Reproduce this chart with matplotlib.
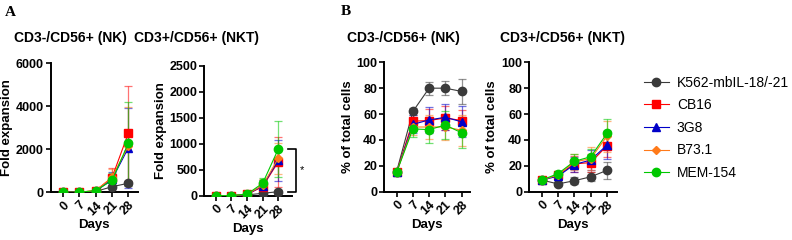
import matplotlib
matplotlib.use("Agg")
import matplotlib.pyplot as plt

plt.rcParams['font.family'] = ['Liberation Sans', 'DejaVu Sans']

days = [0, 7, 14, 21, 28]
groups = ['K562-mbIL-18/-21', 'CB16', '3G8', 'B73.1', 'MEM-154']

# Fold expansion, NK
nk_fold = {
    'K562-mbIL-18/-21': [1, 2, 40, 260, 420],
    'CB16': [1, 3, 80, 680, 2740],
    '3G8': [1, 2, 50, 600, 2060],
    'B73.1': [1, 3, 80, 700, 2150],
    'MEM-154': [1, 3, 80, 550, 2270],
}
nk_fold_err = {
    'K562-mbIL-18/-21': [0, 1, 20, 80, 120],
    'CB16': [0, 2, 60, 450, 2200],
    '3G8': [0, 1, 40, 350, 1850],
    'B73.1': [0, 2, 50, 400, 1800],
    'MEM-154': [0, 2, 50, 350, 1950],
}

# Fold expansion, NKT
nkt_fold = {
    'K562-mbIL-18/-21': [1, 1, 15, 46, 77],
    'CB16': [1, 1, 25, 173, 654],
    '3G8': [1, 1, 22, 190, 680],
    'B73.1': [1, 1, 28, 200, 720],
    'MEM-154': [1, 1, 30, 238, 898],
}
nkt_fold_err = {
    'K562-mbIL-18/-21': [0, 0, 5, 20, 30],
    'CB16': [0, 0, 10, 120, 480],
    '3G8': [0, 0, 10, 110, 400],
    'B73.1': [0, 0, 10, 130, 300],
    'MEM-154': [0, 0, 10, 100, 530],
}

# % of total cells, NK
nk_pct = {
    'K562-mbIL-18/-21': [15.5, 62, 80, 80, 77.5],
    'CB16': [15, 54.5, 55, 57, 55],
    '3G8': [15, 52, 55.5, 57.5, 54],
    'B73.1': [15, 50, 50, 50, 47.5],
    'MEM-154': [15, 48.5, 48, 51.5, 45.5],
}
nk_pct_err = {
    'K562-mbIL-18/-21': [1, 2.5, 5, 5.5, 9.5],
    'CB16': [1, 6, 9, 9, 8],
    '3G8': [1, 7, 10, 10, 12],
    'B73.1': [1, 6, 9, 10, 12],
    'MEM-154': [1, 6.5, 10, 11, 12],
}

# % of total cells, NKT
nkt_pct = {
    'K562-mbIL-18/-21': [9, 6, 8.5, 11.5, 16.5],
    'CB16': [9, 13, 21.5, 22.5, 35.5],
    '3G8': [9, 12, 21, 24.5, 36],
    'B73.1': [9, 13, 23, 25.5, 43],
    'MEM-154': [9, 14, 23.5, 27, 45],
}
nkt_pct_err = {
    'K562-mbIL-18/-21': [1, 1.5, 2.5, 3.5, 6.5],
    'CB16': [1, 2, 6, 7, 9],
    '3G8': [1, 2, 6, 8, 11],
    'B73.1': [1, 2, 6, 9, 12],
    'MEM-154': [1, 2, 5.5, 6, 11],
}

colors = {'K562-mbIL-18/-21': '#3a3a3a', 'CB16': '#ff0000', '3G8': '#0000c8',
          'B73.1': '#ff7a1a', 'MEM-154': '#00c800'}
markers = {'K562-mbIL-18/-21': 'o', 'CB16': 's', '3G8': '^', 'B73.1': 'D', 'MEM-154': 'o'}
msizes = {'K562-mbIL-18/-21': 6, 'CB16': 6, '3G8': 6, 'B73.1': 4.5, 'MEM-154': 6}

fig = plt.figure(figsize=(7.92, 2.4), dpi=100)

W, H = 792, 240
def add_axes(l, r, b, t):
    return fig.add_axes([l / W, 1 - b / H, (r - l) / W, (b - t) / H])

ax1 = add_axes(50.7, 138, 192.3, 63.3)
ax2 = add_axes(204.3, 291.7, 195.7, 65.7)
ax3 = add_axes(384.3, 470, 191.7, 62.3)
ax4 = add_axes(529, 617, 191.7, 62.3)

panels = [
    (ax1, nk_fold, nk_fold_err, (0, 6000), [0, 2000, 4000, 6000], (-5.4, 32.2), 'Fold expansion'),
    (ax2, nkt_fold, nkt_fold_err, (0, 2500), [0, 500, 1000, 1500, 2000, 2500], (-5.1, 34), 'Fold expansion'),
    (ax3, nk_pct, nk_pct_err, (0, 100), [0, 20, 40, 60, 80, 100], (-5.3, 31.6), '% of total cells'),
    (ax4, nkt_pct, nkt_pct_err, (0, 100), [0, 20, 40, 60, 80, 100], (-5.5, 32.3), '% of total cells'),
]

handles = []
for ax, vals, errs, ylim, yticks, xlim, ylabel in panels:
    hs = []
    for g in groups:
        c = colors[g]
        ax.errorbar(days, vals[g], yerr=errs[g], fmt='none', ecolor=c, alpha=0.55,
                    elinewidth=0.9, capsize=3, capthick=0.9, zorder=2)
        h, = ax.plot(days, vals[g], color=c, lw=0.8, marker=markers[g],
                     ms=msizes[g], mec=c, mfc=c, label=g, zorder=3)
        hs.append(h)
    handles = hs
    ax.set_ylim(*ylim)
    ax.set_yticks(yticks)
    ax.set_xlim(*xlim)
    ax.set_xticks(days)
    ax.set_xticklabels([str(d) for d in days], rotation=45, ha='right',
                       rotation_mode='anchor', fontsize=9, fontweight='bold')
    for lab in ax.get_yticklabels():
        lab.set_fontsize(9)
        lab.set_fontweight('bold')
    ax.set_ylabel(ylabel, fontsize=9.5, fontweight='bold', labelpad=2)
    ax.set_xlabel('Days', fontsize=9.5, fontweight='bold', labelpad=1)
    for s in ['top', 'right']:
        ax.spines[s].set_visible(False)
    for s in ['left', 'bottom']:
        ax.spines[s].set_linewidth(1.4)
        ax.spines[s].set_color('black')
    ax.tick_params(axis='both', width=1.2, length=3.5, pad=1.5)

# significance bracket on NKT fold expansion
top = nkt_fold['MEM-154'][-1]
bot = nkt_fold['K562-mbIL-18/-21'][-1]
x0 = days[-1] + 4.3
x1 = days[-1] + 7.8
ax2.plot([x0, x1, x1, x0], [top, top, bot, bot], color='black', lw=1.2, clip_on=False)
ax2.text(x1 + 3, (top + bot) / 2, '*', fontsize=8, ha='center', va='center')

# titles
title_kw = dict(fontsize=10, fontweight='bold', ha='center', va='baseline')
fig.text(70 / W, 1 - 42 / H, 'CD3-/CD56+ (NK)', **title_kw)
fig.text(196 / W, 1 - 42 / H, 'CD3+/CD56+ (NKT)', **title_kw)
fig.text(403 / W, 1 - 42 / H, 'CD3-/CD56+ (NK)', **title_kw)
fig.text(562 / W, 1 - 42 / H, 'CD3+/CD56+ (NKT)', **title_kw)

# panel letters
fig.text(5 / W, 1 - 16 / H, 'A', fontsize=11, fontweight='bold', family='Liberation Serif')
fig.text(341 / W, 1 - 15 / H, 'B', fontsize=11, fontweight='bold', family='Liberation Serif')

fig.legend(handles=handles, labels=groups, loc='upper left',
           bbox_to_anchor=(638 / W, 1 - 70 / H), frameon=False, fontsize=10,
           handlelength=1.8, handletextpad=0.6, labelspacing=0.62, borderaxespad=0)

fig.savefig('out.png', dpi=100)
